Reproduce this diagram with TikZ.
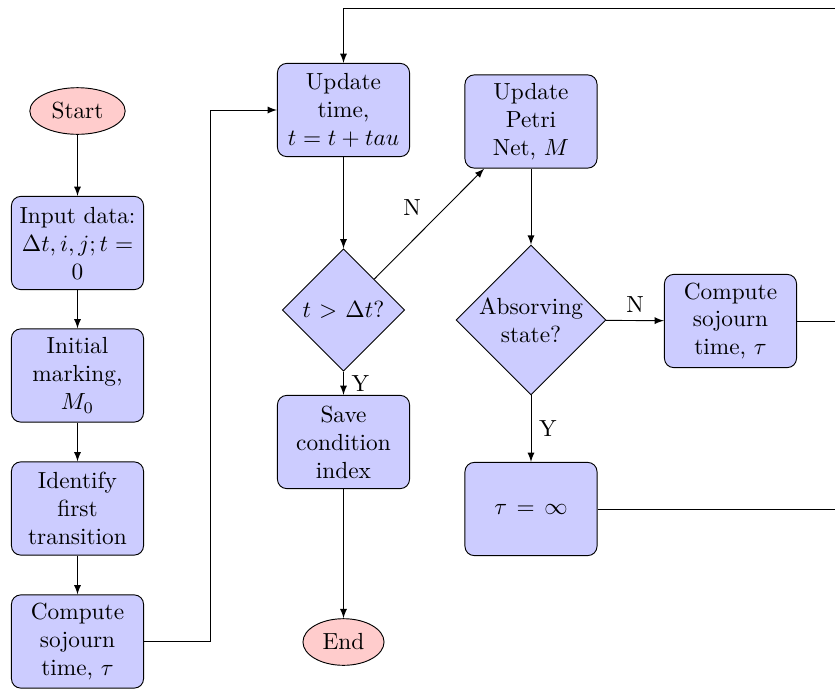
\documentclass[tikz,border=0pt]{standalone}
\usetikzlibrary{shapes.geometric}
\begin{document}
\begin{tikzpicture}[x=0.429pt,y=-0.429pt,
  block/.style={rectangle, draw, fill=blue!20, text width=5em, align=center, rounded corners, minimum height=4em},
  decision/.style={diamond, draw, fill=blue!20, text width=4.5em, align=center, inner sep=0pt},
  cloud/.style={draw, ellipse, fill=red!20, minimum height=2em},
  line/.style={draw, -latex}]
\useasboundingbox (0,0) rectangle (835,689);
\node[cloud] (start) at (77.5,111) {Start};
\node[block] (input) at (77.5,243) {Input data: $\Delta t, i, j; t=0$};
\node[block] (init) at (77.5,375.5) {Initial marking, $M_0$};
\node[block] (ident) at (77.5,508.5) {Identify first transition};
\node[block] (comp1) at (77.5,641.5) {Compute sojourn time, $\tau$};
\node[block] (upd) at (343.5,110) {Update time, $t=t+tau$};
\node[decision] (dec) at (343.5,310) {$t>\Delta t$?};
\node[block] (save) at (343.5,442) {Save condition index};
\node[cloud] (stop) at (343.5,642) {End};
\node[block] (petri) at (531,121.5) {Update Petri Net, $M$};
\node[decision] (absorb) at (531,320) {Absorving state?};
\node[block] (comp2) at (730.5,321) {Compute sojourn time, $\tau$};
\node[block] (inf) at (531,509) {$\tau=\infty$};
\coordinate (k1) at (210,641.5);
\coordinate (r1) at (835,8);
\coordinate (r2) at (835,321);
\coordinate (r3) at (835,509);
\path[line] (start) -- (input);
\path[line] (input) -- (init);
\path[line] (init) -- (ident);
\path[line] (ident) -- (comp1);
\path[line] (comp1.east) -- (k1) |- (upd.west);
\path[line] (r1) -| (upd.north);
\path[line] (upd) -- (dec);
\path[line] (dec) -- node[above left] {N} (petri);
\path[line] (dec) -- node[right] {Y} (save);
\path[line] (save) -- (stop);
\path[line] (petri) -- (absorb);
\path[line] (absorb) -- node[above] {N} (comp2);
\path[line] (absorb) -- node[right] {Y} (inf);
\draw (comp2.east) -- (r2);
\draw (inf.east) -- (r3);
\end{tikzpicture}
\end{document}
